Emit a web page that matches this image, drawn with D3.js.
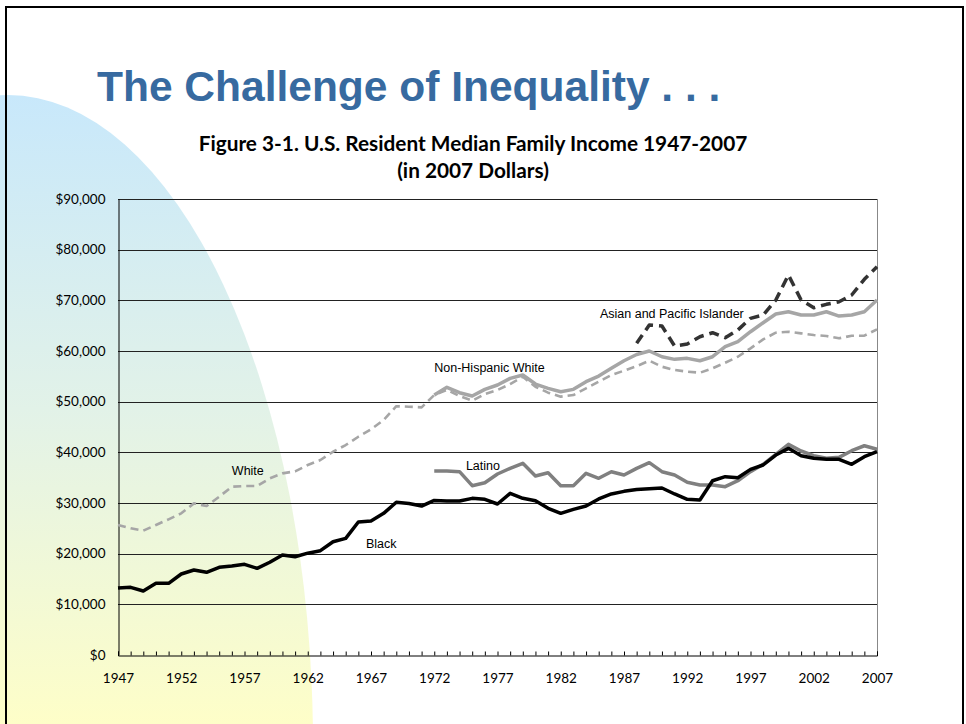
<!DOCTYPE html>
<html><head><meta charset="utf-8">
<script src="https://cdn.jsdelivr.net/npm/d3@7"></script>
<style>html,body{margin:0;padding:0;background:#fff;}svg{display:block;}</style>
</head><body>
<script>
const years = d3.range(1947, 2008);
const yTicks = [0,10000,20000,30000,40000,50000,60000,70000,80000,90000];
const xTickLabels = [1947,1952,1957,1962,1967,1972,1977,1982,1987,1992,1997,2002,2007];

// 1947-2007
const black = [13200,13360,12630,14150,14150,15990,16780,16320,17300,17560,17890,17100,18300,19740,19400,20100,20590,22360,23020,26250,26450,27960,30150,29900,29400,
 30500,30400,30380,30920,30720,29800,31900,30920,30460,28950,27960,28750,29400,30790,31780,32300,32650,32820,32960,31780,30720,30590,34400,35190,35000,36640,37500,39470,40790,39340,38820,38620,38620,37630,39140,40120];
// 1947-2007 (White, dashed)
const white = [25660,25000,24540,25660,26780,27960,29930,29400,31240,33220,33350,33350,34870,35850,36250,37500,38480,40120,41440,43080,44540,46380,49100,49000,48880,
 51310,52300,51110,50190,51510,52300,53480,54920,52950,51770,50990,51310,52630,53940,55260,56110,57000,58080,56900,56250,55920,55710,56580,57690,58870,60520,62300,63610,63800,63480,63150,62960,62500,63020,63020,64280];
// 1972-2007
const nhWhite = [51310,52830,51770,51110,52430,53290,54600,55260,53480,52630,51960,52430,53940,55060,56580,58080,59300,60000,58870,58350,58550,58080,58870,60840,61830,63800,65580,67300,67750,67100,67100,67750,66900,67100,67750,70060];
// 1972-2007
const latino = [36310,36310,36180,33420,34010,35720,36840,37830,35330,35980,33420,33420,35850,34870,36180,35520,36840,37960,36180,35520,34080,33550,33550,33220,34400,36180,37630,39600,41570,40260,39340,38820,39010,40320,41300,40600];
// 1988-2007
const asian = [61510,65130,64930,60980,61380,62820,63610,62620,64140,66450,67100,70060,74990,70060,68540,69210,69720,71050,74140,76630];

const seriesLabels = [
  {text:"Asian and Pacific Islander", year:1985.1, value:66500},
  {text:"Non-Hispanic White", year:1972.0, value:55900},
  {text:"Latino", year:1974.5, value:36500},
  {text:"White", year:1956.0, value:35500},
  {text:"Black", year:1966.6, value:21200}
];

const W = 966, H = 724;
const svg = d3.select("body").append("svg").attr("width", W).attr("height", H);

// background gradient shape
const defs = svg.append("defs");
const grad = defs.append("linearGradient").attr("id","bg").attr("gradientUnits","userSpaceOnUse")
  .attr("x1",0).attr("y1",95).attr("x2",0).attr("y2",724);
grad.append("stop").attr("offset","0%").attr("stop-color","#c8e8fb");
grad.append("stop").attr("offset","50%").attr("stop-color","#e2f2e8");
grad.append("stop").attr("offset","100%").attr("stop-color","#fefec8");
svg.append("ellipse").attr("cx",8).attr("cy",745).attr("rx",305).attr("ry",650).attr("fill","url(#bg)");

// slide border
svg.append("rect").attr("x",6).attr("y",7).attr("width",957).attr("height",740)
  .attr("fill","none").attr("stroke","#000").attr("stroke-width",2);

// Title
svg.append("text").attr("x",97).attr("y",101).attr("fill","#376aa0")
  .attr("font-family","Liberation Sans, Arial, sans-serif").attr("font-weight","bold").attr("font-size",42.5)
  .text("The Challenge of Inequality . . .");

const ctitle = svg.append("g").attr("font-family","Lato, 'Open Sans', sans-serif").attr("font-weight","bold")
  .attr("font-size",20.8).attr("text-anchor","middle").attr("fill","#000");
ctitle.append("text").attr("x",473).attr("y",151).text("Figure 3-1. U.S. Resident Median Family Income 1947-2007");
ctitle.append("text").attr("x",473).attr("y",178).text("(in 2007 Dollars)");

const L = 118, R = 877, T = 199, B = 655;
const x = d3.scaleLinear().domain([1947,2007]).range([L,R]);
const y = d3.scaleLinear().domain([0,90000]).range([B,T]);

// gridlines
svg.append("g").selectAll("line").data(yTicks.filter(d=>d>0)).join("line")
  .attr("x1",L).attr("x2",R).attr("y1",d=>Math.round(y(d))+0.5).attr("y2",d=>Math.round(y(d))+0.5)
  .attr("stroke","#222").attr("stroke-width",1);
// right border
svg.append("line").attr("x1",R+0.5).attr("x2",R+0.5).attr("y1",T).attr("y2",B).attr("stroke","#888");

// y axis
const yAxis = d3.axisLeft(y).tickValues(yTicks).tickSize(0).tickPadding(13)
  .tickFormat(d=>"$"+d3.format(",")(d));
const gy = svg.append("g").attr("transform",`translate(${L+0.5},0)`).call(yAxis);
gy.select(".domain").attr("stroke","#000");
gy.selectAll("text").attr("font-family","Lato, 'Open Sans', sans-serif").attr("font-size",13.5).attr("fill","#000");

// x axis
const xAxisMinor = d3.axisBottom(x).tickValues(years).tickSize(-4).tickFormat("");
const gxm = svg.append("g").attr("transform",`translate(0,${B+0.5})`).call(xAxisMinor);
gxm.select(".domain").attr("stroke","#000");
gxm.selectAll(".tick line").attr("stroke","#000");
const xAxis = d3.axisBottom(x).tickValues(xTickLabels).tickSize(0).tickPadding(18).tickFormat(d3.format("d"));
const gx = svg.append("g").attr("transform",`translate(0,${B+0.5})`).call(xAxis);
gx.select(".domain").remove();
gx.selectAll("text").attr("font-family","Lato, 'Open Sans', sans-serif").attr("font-size",13.5).attr("fill","#000");

// lines
const line = d3.line().x(d=>x(d[0])).y(d=>y(d[1])).curve(d3.curveLinear);
const mk = (arr, start) => arr.map((v,i)=>[start+i, v]);

const series = [
  {data: mk(white,1947), color:"#a6a6a6", width:2.6, dash:"8,5"},
  {data: mk(nhWhite,1972), color:"#a6a6a6", width:3.5, dash:null},
  {data: mk(latino,1972), color:"#808080", width:3.5, dash:null},
  {data: mk(black,1947), color:"#000000", width:3.5, dash:null},
  {data: mk(asian,1988), color:"#333333", width:3.5, dash:"10,6"}
];
svg.append("g").selectAll("path").data(series).join("path")
  .attr("d", d=>line(d.data)).attr("fill","none")
  .attr("stroke", d=>d.color).attr("stroke-width", d=>d.width)
  .attr("stroke-dasharray", d=>d.dash)
  .attr("stroke-linejoin","round");

// labels
svg.append("g").selectAll("text").data(seriesLabels).join("text")
  .attr("x", d=>x(d.year)).attr("y", d=>y(d.value))
  .attr("font-family","Liberation Sans, Arial, sans-serif").attr("font-size",12.5).attr("fill","#000")
  .text(d=>d.text);
</script>
</body></html>
